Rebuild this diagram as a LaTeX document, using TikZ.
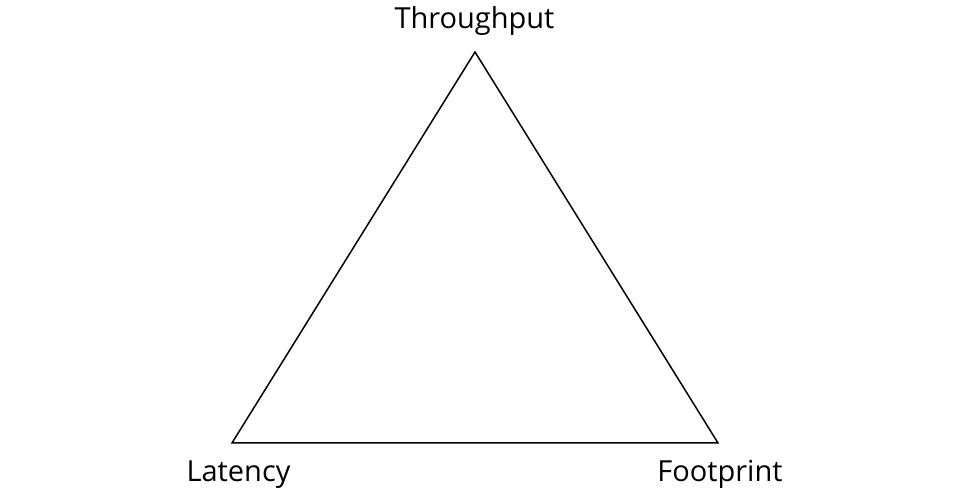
\documentclass[tikz,border=0pt]{standalone}
\usepackage{fontspec}
\setmainfont{Open Sans}
\begin{document}
\begin{tikzpicture}[x=1pt,y=1pt,
  lbl/.style={inner sep=0pt,anchor=base,font=\fontsize{29}{34}\selectfont},
  edge/.style={draw=black,line width=1.5pt,line join=miter}]
\useasboundingbox (0,0) rectangle (969,495);
\coordinate (T) at (475,443);
\coordinate (L) at (232,52);
\coordinate (R) at (718,52);
\draw[edge] (T) -- (L) -- (R) -- cycle;
\node[lbl] (tt) at (474.5,466) {Throughput};
\node[lbl] (tl) at (238.5,13) {Latency};
\node[lbl] (tr) at (720,13) {Footprint};
\end{tikzpicture}
\end{document}
